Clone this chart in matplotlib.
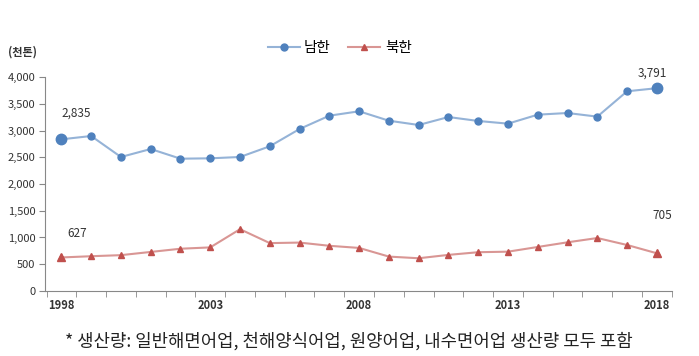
import matplotlib.pyplot as plt
import numpy as np

plt.rcParams['font.family'] = ['Noto Sans CJK KR', 'DejaVu Sans']

years = list(range(1998, 2019))
south = [2835, 2897, 2505, 2654, 2473, 2480, 2505, 2705, 3028, 3277, 3359,
         3183, 3103, 3252, 3178, 3128, 3296, 3327, 3259, 3733, 3791]
north = [627, 650, 670, 730, 790, 815, 1155, 895, 905, 845, 805,
         643, 612, 675, 725, 735, 823, 910, 990, 860, 705]
xtick_years = [1998, 2003, 2008, 2013, 2018]
yticks = [0, 500, 1000, 1500, 2000, 2500, 3000, 3500, 4000]

fig = plt.figure(figsize=(6.99, 3.56), dpi=100)
ax = fig.add_axes([0.0644, 0.1826, 0.8966, 0.6011])

x = np.array(years)
ax.plot(x, south, color='#95b3d7', lw=1.5, marker='o', ms=5,
        mfc='#4f81bd', mec='#4f81bd', label='남한', zorder=3)
ax.plot(x, north, color='#d99694', lw=1.5, marker='^', ms=5,
        mfc='#c0504d', mec='#c0504d', label='북한', zorder=3)
# bigger end points
ax.plot([x[0], x[-1]], [south[0], south[-1]], 'o', ms=7.5, color='#4f81bd', zorder=4)
ax.plot([x[0], x[-1]], [north[0], north[-1]], '^', ms=5.5, color='#c0504d', zorder=4)

lab = dict(textcoords='offset points', fontsize=8.5, color='#333333', fontweight='medium')
ax.annotate(f'{south[0]:,}', (x[0], south[0]), xytext=(0, 16), ha='left', **lab)
ax.annotate(f'{south[-1]:,}', (x[-1], south[-1]), xytext=(-3, 8), ha='center', **lab)
ax.annotate(f'{north[0]:,}', (x[0], north[0]), xytext=(4, 15), ha='left', **lab)
ax.annotate(f'{north[-1]:,}', (x[-1], north[-1]), xytext=(4, 25), ha='center', **lab)

ax.set_xlim(1997.45, 2018.45)
ax.set_ylim(0, 4000)
ax.set_yticks(yticks)
ax.set_yticklabels([f'{v:,}' for v in yticks], fontsize=8, color='#333333')
ax.set_xticks(xtick_years)
ax.set_xticklabels([str(y) for y in xtick_years], fontsize=8, color='#333333', fontweight='bold')
ax.set_xticks(np.arange(1997.5, 2019, 1), minor=True)
ax.tick_params(axis='x', which='major', length=0, pad=6)
ax.tick_params(axis='x', which='minor', length=4, color='#888888', direction='out')
ax.tick_params(axis='y', length=4, color='#888888', pad=3)
for s in ['top', 'right']:
    ax.spines[s].set_visible(False)
for s in ['left', 'bottom']:
    ax.spines[s].set_color('#888888')

fig.text(0.012, 0.845, '(천톤)', fontsize=8, color='#333333', fontweight='bold')
ax.legend(loc='lower center', bbox_to_anchor=(0.47, 1.04), ncol=2, frameon=False,
          fontsize=10.5, handlelength=2.2, handletextpad=0.3, columnspacing=1.2)
fig.text(0.093, 0.025, '* 생산량: 일반해면어업, 천해양식어업, 원양어업, 내수면어업 생산량 모두 포함',
         ha='left', fontsize=12.8, color='#222222')

fig.savefig('out.png', dpi=100)
